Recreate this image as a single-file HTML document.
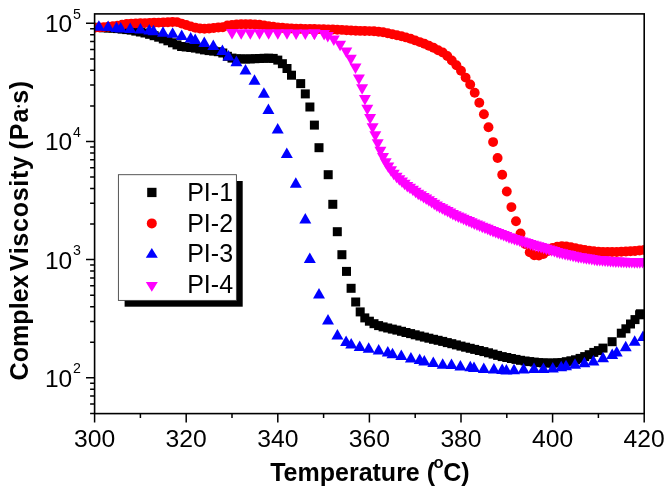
<!DOCTYPE html>
<html><head><meta charset="utf-8"><title>Complex Viscosity vs Temperature</title>
<style>
html,body{margin:0;padding:0;background:#fff;}
body{width:670px;height:497px;overflow:hidden;}
svg{display:block;font-family:"Liberation Sans",sans-serif;}
</style></head><body>
<svg width="670" height="497" viewBox="0 0 670 497">
<rect width="670" height="497" fill="#fff"/>
<defs><clipPath id="pc"><rect x="94.6" y="13.9" width="550.4" height="399.7"/></clipPath></defs>
<g clip-path="url(#pc)">
<g fill="#000"><rect x="90.1" y="22.8" width="9.0" height="9.0"/><rect x="94.7" y="23.0" width="9.0" height="9.0"/><rect x="99.3" y="23.3" width="9.0" height="9.0"/><rect x="103.8" y="23.5" width="9.0" height="9.0"/><rect x="108.4" y="23.7" width="9.0" height="9.0"/><rect x="113.0" y="24.1" width="9.0" height="9.0"/><rect x="117.6" y="24.6" width="9.0" height="9.0"/><rect x="122.2" y="25.1" width="9.0" height="9.0"/><rect x="126.7" y="25.6" width="9.0" height="9.0"/><rect x="131.3" y="26.6" width="9.0" height="9.0"/><rect x="135.9" y="27.5" width="9.0" height="9.0"/><rect x="140.5" y="28.5" width="9.0" height="9.0"/><rect x="145.1" y="29.8" width="9.0" height="9.0"/><rect x="149.6" y="31.2" width="9.0" height="9.0"/><rect x="154.2" y="32.7" width="9.0" height="9.0"/><rect x="158.8" y="34.4" width="9.0" height="9.0"/><rect x="163.4" y="36.3" width="9.0" height="9.0"/><rect x="168.0" y="38.3" width="9.0" height="9.0"/><rect x="172.5" y="40.4" width="9.0" height="9.0"/><rect x="177.1" y="42.0" width="9.0" height="9.0"/><rect x="181.7" y="42.5" width="9.0" height="9.0"/><rect x="186.3" y="43.0" width="9.0" height="9.0"/><rect x="190.9" y="43.6" width="9.0" height="9.0"/><rect x="195.4" y="44.5" width="9.0" height="9.0"/><rect x="200.0" y="45.4" width="9.0" height="9.0"/><rect x="204.6" y="46.1" width="9.0" height="9.0"/><rect x="209.2" y="46.6" width="9.0" height="9.0"/><rect x="213.8" y="47.2" width="9.0" height="9.0"/><rect x="218.3" y="48.5" width="9.0" height="9.0"/><rect x="222.9" y="51.8" width="9.0" height="9.0"/><rect x="227.5" y="53.6" width="9.0" height="9.0"/><rect x="232.1" y="54.3" width="9.0" height="9.0"/><rect x="236.7" y="54.4" width="9.0" height="9.0"/><rect x="241.2" y="54.5" width="9.0" height="9.0"/><rect x="245.8" y="54.4" width="9.0" height="9.0"/><rect x="250.4" y="54.2" width="9.0" height="9.0"/><rect x="255.0" y="54.0" width="9.0" height="9.0"/><rect x="259.6" y="53.8" width="9.0" height="9.0"/><rect x="264.1" y="53.7" width="9.0" height="9.0"/><rect x="268.7" y="53.9" width="9.0" height="9.0"/><rect x="273.3" y="55.6" width="9.0" height="9.0"/><rect x="277.9" y="59.2" width="9.0" height="9.0"/><rect x="282.5" y="64.0" width="9.0" height="9.0"/><rect x="287.0" y="70.7" width="9.0" height="9.0"/><rect x="296.2" y="79.1" width="9.0" height="9.0"/><rect x="300.8" y="89.4" width="9.0" height="9.0"/><rect x="305.4" y="102.5" width="9.0" height="9.0"/><rect x="309.9" y="120.6" width="9.0" height="9.0"/><rect x="314.5" y="143.2" width="9.0" height="9.0"/><rect x="323.7" y="170.2" width="9.0" height="9.0"/><rect x="328.3" y="199.8" width="9.0" height="9.0"/><rect x="332.8" y="227.2" width="9.0" height="9.0"/><rect x="337.4" y="250.2" width="9.0" height="9.0"/><rect x="342.0" y="266.9" width="9.0" height="9.0"/><rect x="346.6" y="283.8" width="9.0" height="9.0"/><rect x="351.2" y="297.5" width="9.0" height="9.0"/><rect x="355.7" y="307.4" width="9.0" height="9.0"/><rect x="360.3" y="313.4" width="9.0" height="9.0"/><rect x="364.9" y="316.7" width="9.0" height="9.0"/><rect x="369.5" y="319.2" width="9.0" height="9.0"/><rect x="374.1" y="321.1" width="9.0" height="9.0"/><rect x="378.6" y="322.4" width="9.0" height="9.0"/><rect x="383.2" y="323.5" width="9.0" height="9.0"/><rect x="387.8" y="324.6" width="9.0" height="9.0"/><rect x="392.4" y="325.6" width="9.0" height="9.0"/><rect x="397.0" y="326.8" width="9.0" height="9.0"/><rect x="401.5" y="328.0" width="9.0" height="9.0"/><rect x="406.1" y="329.1" width="9.0" height="9.0"/><rect x="410.7" y="330.3" width="9.0" height="9.0"/><rect x="415.3" y="331.5" width="9.0" height="9.0"/><rect x="419.9" y="332.6" width="9.0" height="9.0"/><rect x="424.4" y="333.7" width="9.0" height="9.0"/><rect x="429.0" y="334.8" width="9.0" height="9.0"/><rect x="433.6" y="335.8" width="9.0" height="9.0"/><rect x="438.2" y="336.9" width="9.0" height="9.0"/><rect x="442.8" y="338.1" width="9.0" height="9.0"/><rect x="447.3" y="339.2" width="9.0" height="9.0"/><rect x="451.9" y="340.4" width="9.0" height="9.0"/><rect x="456.5" y="341.6" width="9.0" height="9.0"/><rect x="461.1" y="342.7" width="9.0" height="9.0"/><rect x="465.7" y="343.8" width="9.0" height="9.0"/><rect x="470.2" y="344.9" width="9.0" height="9.0"/><rect x="474.8" y="346.0" width="9.0" height="9.0"/><rect x="479.4" y="347.1" width="9.0" height="9.0"/><rect x="484.0" y="348.3" width="9.0" height="9.0"/><rect x="488.6" y="349.6" width="9.0" height="9.0"/><rect x="493.1" y="350.9" width="9.0" height="9.0"/><rect x="497.7" y="352.1" width="9.0" height="9.0"/><rect x="502.3" y="353.0" width="9.0" height="9.0"/><rect x="506.9" y="354.0" width="9.0" height="9.0"/><rect x="511.5" y="354.9" width="9.0" height="9.0"/><rect x="516.0" y="355.8" width="9.0" height="9.0"/><rect x="520.6" y="356.5" width="9.0" height="9.0"/><rect x="525.2" y="357.1" width="9.0" height="9.0"/><rect x="529.8" y="357.6" width="9.0" height="9.0"/><rect x="534.4" y="358.1" width="9.0" height="9.0"/><rect x="538.9" y="358.4" width="9.0" height="9.0"/><rect x="543.5" y="358.5" width="9.0" height="9.0"/><rect x="548.1" y="358.6" width="9.0" height="9.0"/><rect x="552.7" y="358.3" width="9.0" height="9.0"/><rect x="557.3" y="358.1" width="9.0" height="9.0"/><rect x="561.8" y="357.2" width="9.0" height="9.0"/><rect x="566.4" y="356.3" width="9.0" height="9.0"/><rect x="571.0" y="355.3" width="9.0" height="9.0"/><rect x="575.6" y="353.9" width="9.0" height="9.0"/><rect x="580.2" y="352.1" width="9.0" height="9.0"/><rect x="584.7" y="350.2" width="9.0" height="9.0"/><rect x="589.3" y="347.9" width="9.0" height="9.0"/><rect x="593.9" y="346.1" width="9.0" height="9.0"/><rect x="598.5" y="343.6" width="9.0" height="9.0"/><rect x="607.6" y="337.2" width="9.0" height="9.0"/><rect x="616.8" y="328.7" width="9.0" height="9.0"/><rect x="621.4" y="324.3" width="9.0" height="9.0"/><rect x="626.0" y="319.5" width="9.0" height="9.0"/><rect x="630.5" y="315.1" width="9.0" height="9.0"/><rect x="635.1" y="310.3" width="9.0" height="9.0"/><rect x="635.9" y="309.3" width="9.0" height="9.0"/></g>
<g fill="#ff0000"><circle cx="94.6" cy="27.7" r="4.95"/><circle cx="99.2" cy="27.4" r="4.95"/><circle cx="103.8" cy="27.1" r="4.95"/><circle cx="108.3" cy="26.8" r="4.95"/><circle cx="112.9" cy="26.3" r="4.95"/><circle cx="117.5" cy="25.7" r="4.95"/><circle cx="122.1" cy="24.8" r="4.95"/><circle cx="126.7" cy="23.9" r="4.95"/><circle cx="131.2" cy="23.6" r="4.95"/><circle cx="135.8" cy="23.4" r="4.95"/><circle cx="140.4" cy="23.2" r="4.95"/><circle cx="145.0" cy="23.1" r="4.95"/><circle cx="149.6" cy="22.9" r="4.95"/><circle cx="154.1" cy="22.8" r="4.95"/><circle cx="158.7" cy="22.6" r="4.95"/><circle cx="163.3" cy="22.4" r="4.95"/><circle cx="167.9" cy="22.2" r="4.95"/><circle cx="172.5" cy="22.0" r="4.95"/><circle cx="177.0" cy="22.1" r="4.95"/><circle cx="181.6" cy="23.6" r="4.95"/><circle cx="186.2" cy="25.0" r="4.95"/><circle cx="190.8" cy="26.4" r="4.95"/><circle cx="195.4" cy="27.7" r="4.95"/><circle cx="199.9" cy="28.5" r="4.95"/><circle cx="204.5" cy="28.8" r="4.95"/><circle cx="209.1" cy="28.5" r="4.95"/><circle cx="213.7" cy="28.0" r="4.95"/><circle cx="218.3" cy="27.5" r="4.95"/><circle cx="222.8" cy="27.2" r="4.95"/><circle cx="227.4" cy="25.4" r="4.95"/><circle cx="232.0" cy="24.9" r="4.95"/><circle cx="236.6" cy="24.4" r="4.95"/><circle cx="241.2" cy="24.3" r="4.95"/><circle cx="245.7" cy="24.2" r="4.95"/><circle cx="250.3" cy="24.3" r="4.95"/><circle cx="254.9" cy="24.4" r="4.95"/><circle cx="259.5" cy="24.7" r="4.95"/><circle cx="264.1" cy="25.4" r="4.95"/><circle cx="268.6" cy="26.1" r="4.95"/><circle cx="273.2" cy="26.8" r="4.95"/><circle cx="277.8" cy="27.5" r="4.95"/><circle cx="282.4" cy="27.8" r="4.95"/><circle cx="287.0" cy="28.1" r="4.95"/><circle cx="291.5" cy="28.4" r="4.95"/><circle cx="296.1" cy="28.7" r="4.95"/><circle cx="300.7" cy="28.8" r="4.95"/><circle cx="305.3" cy="28.9" r="4.95"/><circle cx="309.9" cy="28.9" r="4.95"/><circle cx="314.4" cy="29.0" r="4.95"/><circle cx="319.0" cy="29.1" r="4.95"/><circle cx="323.6" cy="29.2" r="4.95"/><circle cx="328.2" cy="29.4" r="4.95"/><circle cx="332.8" cy="29.5" r="4.95"/><circle cx="337.3" cy="29.7" r="4.95"/><circle cx="341.9" cy="29.9" r="4.95"/><circle cx="346.5" cy="30.2" r="4.95"/><circle cx="351.1" cy="30.5" r="4.95"/><circle cx="355.7" cy="30.8" r="4.95"/><circle cx="360.2" cy="30.9" r="4.95"/><circle cx="364.8" cy="31.0" r="4.95"/><circle cx="369.4" cy="31.1" r="4.95"/><circle cx="374.0" cy="31.3" r="4.95"/><circle cx="378.6" cy="31.8" r="4.95"/><circle cx="383.1" cy="32.2" r="4.95"/><circle cx="387.7" cy="33.2" r="4.95"/><circle cx="392.3" cy="34.3" r="4.95"/><circle cx="396.9" cy="35.3" r="4.95"/><circle cx="401.5" cy="36.3" r="4.95"/><circle cx="406.0" cy="37.4" r="4.95"/><circle cx="410.6" cy="38.8" r="4.95"/><circle cx="415.2" cy="40.4" r="4.95"/><circle cx="419.8" cy="42.1" r="4.95"/><circle cx="424.4" cy="43.8" r="4.95"/><circle cx="428.9" cy="45.7" r="4.95"/><circle cx="433.5" cy="47.8" r="4.95"/><circle cx="438.1" cy="50.2" r="4.95"/><circle cx="442.7" cy="52.4" r="4.95"/><circle cx="447.3" cy="56.0" r="4.95"/><circle cx="451.8" cy="60.5" r="4.95"/><circle cx="456.4" cy="65.3" r="4.95"/><circle cx="461.0" cy="70.8" r="4.95"/><circle cx="465.6" cy="77.6" r="4.95"/><circle cx="470.2" cy="84.5" r="4.95"/><circle cx="474.7" cy="92.8" r="4.95"/><circle cx="479.3" cy="102.7" r="4.95"/><circle cx="483.9" cy="114.3" r="4.95"/><circle cx="488.5" cy="127.3" r="4.95"/><circle cx="493.1" cy="142.1" r="4.95"/><circle cx="497.6" cy="158.0" r="4.95"/><circle cx="502.2" cy="174.7" r="4.95"/><circle cx="506.8" cy="191.5" r="4.95"/><circle cx="511.4" cy="207.1" r="4.95"/><circle cx="516.0" cy="221.3" r="4.95"/><circle cx="520.5" cy="233.4" r="4.95"/><circle cx="525.1" cy="244.0" r="4.95"/><circle cx="529.7" cy="252.3" r="4.95"/><circle cx="534.3" cy="255.2" r="4.95"/><circle cx="538.9" cy="255.6" r="4.95"/><circle cx="543.4" cy="254.0" r="4.95"/><circle cx="548.0" cy="251.0" r="4.95"/><circle cx="552.6" cy="248.0" r="4.95"/><circle cx="557.2" cy="246.8" r="4.95"/><circle cx="561.8" cy="246.3" r="4.95"/><circle cx="566.3" cy="246.5" r="4.95"/><circle cx="570.9" cy="247.2" r="4.95"/><circle cx="575.5" cy="248.2" r="4.95"/><circle cx="580.1" cy="249.1" r="4.95"/><circle cx="584.7" cy="249.9" r="4.95"/><circle cx="589.2" cy="250.8" r="4.95"/><circle cx="593.8" cy="251.2" r="4.95"/><circle cx="598.4" cy="251.6" r="4.95"/><circle cx="603.0" cy="252.0" r="4.95"/><circle cx="607.6" cy="252.0" r="4.95"/><circle cx="612.1" cy="252.0" r="4.95"/><circle cx="616.7" cy="252.0" r="4.95"/><circle cx="621.3" cy="251.8" r="4.95"/><circle cx="625.9" cy="251.5" r="4.95"/><circle cx="630.5" cy="251.2" r="4.95"/><circle cx="635.0" cy="251.0" r="4.95"/><circle cx="639.6" cy="250.5" r="4.95"/><circle cx="644.2" cy="250.0" r="4.95"/></g>
<g fill="#0000ff"><path d="M98.9 20.2L104.9 30.8H92.9Z"/><path d="M108.1 20.6L114.1 31.1H102.1Z"/><path d="M116.5 21.4L122.5 31.9H110.5Z"/><path d="M120.7 21.9L126.7 32.5H114.7Z"/><path d="M130.2 22.4L136.2 32.9H124.2Z"/><path d="M140.4 22.9L146.4 33.5H134.4Z"/><path d="M149.3 23.9L155.3 34.5H143.3Z"/><path d="M153.5 24.8L159.5 35.2H147.5Z"/><path d="M163.0 26.2L169.0 36.8H157.0Z"/><path d="M172.6 27.2L178.6 37.8H166.6Z"/><path d="M181.7 29.5L187.7 40.0H175.7Z"/><path d="M190.7 31.9L196.7 42.4H184.7Z"/><path d="M195.2 33.6L201.2 44.1H189.2Z"/><path d="M204.3 36.4L210.3 46.9H198.3Z"/><path d="M213.3 39.4L219.3 49.9H207.3Z"/><path d="M222.4 44.6L228.4 55.1H216.4Z"/><path d="M228.4 50.0L234.4 60.5H222.4Z"/><path d="M236.4 55.6L242.4 66.2H230.4Z"/><path d="M245.5 64.0L251.5 74.5H239.5Z"/><path d="M254.5 74.2L260.5 84.8H248.5Z"/><path d="M263.9 87.3L269.9 97.8H257.9Z"/><path d="M268.4 103.5L274.4 114.0H262.4Z"/><path d="M277.7 122.9L283.7 133.4H271.7Z"/><path d="M286.8 147.4L292.8 157.9H280.8Z"/><path d="M295.8 177.2L301.8 187.8H289.8Z"/><path d="M305.3 213.1L311.3 223.6H299.3Z"/><path d="M309.8 252.4L315.8 262.9H303.8Z"/><path d="M319.0 287.9L325.0 298.4H313.0Z"/><path d="M328.0 314.1L334.0 324.6H322.0Z"/><path d="M337.4 328.9L343.4 339.4H331.4Z"/><path d="M346.1 335.4L352.1 345.9H340.1Z"/><path d="M351.2 337.9L357.2 348.4H345.2Z"/><path d="M359.7 340.4L365.7 350.9H353.7Z"/><path d="M368.7 342.2L374.7 352.8H362.7Z"/><path d="M378.7 344.1L384.7 354.6H372.7Z"/><path d="M387.8 345.9L393.8 356.4H381.8Z"/><path d="M392.5 347.8L398.5 358.2H386.5Z"/><path d="M401.3 349.4L407.3 359.9H395.3Z"/><path d="M410.9 351.9L416.9 362.4H404.9Z"/><path d="M419.7 353.6L425.7 364.1H413.7Z"/><path d="M424.3 355.1L430.3 365.6H418.3Z"/><path d="M433.3 356.6L439.3 367.1H427.3Z"/><path d="M442.7 358.2L448.7 368.8H436.7Z"/><path d="M451.5 358.6L457.5 369.1H445.5Z"/><path d="M460.4 359.9L466.4 370.4H454.4Z"/><path d="M470.3 360.8L476.3 371.2H464.3Z"/><path d="M474.0 361.4L480.0 371.9H468.0Z"/><path d="M483.8 362.4L489.8 372.9H477.8Z"/><path d="M493.9 363.1L499.9 373.6H487.9Z"/><path d="M502.2 363.4L508.2 373.9H496.2Z"/><path d="M506.4 364.1L512.4 374.6H500.4Z"/><path d="M514.0 363.8L520.0 374.2H508.0Z"/><path d="M523.6 362.9L529.6 373.4H517.6Z"/><path d="M534.0 362.4L540.0 372.9H528.0Z"/><path d="M543.4 362.4L549.4 372.9H537.4Z"/><path d="M552.8 361.9L558.8 372.4H546.8Z"/><path d="M561.2 360.8L567.2 371.2H555.2Z"/><path d="M566.0 359.8L572.0 370.2H560.0Z"/><path d="M575.0 358.2L581.0 368.8H569.0Z"/><path d="M584.4 356.8L590.4 367.2H578.4Z"/><path d="M593.4 354.9L599.4 365.4H587.4Z"/><path d="M603.0 351.8L609.0 362.2H597.0Z"/><path d="M612.2 348.6L618.2 359.1H606.2Z"/><path d="M616.7 345.9L622.7 356.4H610.7Z"/><path d="M625.7 340.8L631.7 351.2H619.7Z"/><path d="M634.7 335.2L640.7 345.8H628.7Z"/><path d="M643.0 330.4L649.0 340.9H637.0Z"/></g>
<g fill="#ff00ff"><path d="M232.0 39.6L238.0 29.1H226.0Z"/><path d="M241.2 39.7L247.2 29.2H235.2Z"/><path d="M250.3 39.7L256.3 29.2H244.3Z"/><path d="M259.5 39.7L265.5 29.2H253.5Z"/><path d="M268.6 39.8L274.6 29.3H262.6Z"/><path d="M277.8 39.8L283.8 29.3H271.8Z"/><path d="M287.0 39.8L293.0 29.3H281.0Z"/><path d="M296.1 39.9L302.1 29.4H290.1Z"/><path d="M305.3 39.9L311.3 29.4H299.3Z"/><path d="M314.4 39.9L320.4 29.4H308.4Z"/><path d="M314.4 40.0L320.4 29.5H308.4Z"/><path d="M324.1 40.6L330.1 30.1H318.1Z"/><path d="M327.8 42.6L333.8 32.1H321.8Z"/><path d="M333.8 46.0L339.8 35.5H327.8Z"/><path d="M340.1 51.2L346.1 40.8H334.1Z"/><path d="M346.3 58.0L352.3 47.5H340.3Z"/><path d="M350.8 65.2L356.8 54.8H344.8Z"/><path d="M355.5 74.0L361.5 63.5H349.5Z"/><path d="M358.9 85.0L364.9 74.5H352.9Z"/><path d="M362.1 94.8L368.1 84.3H356.1Z"/><path d="M364.9 105.5L370.9 95.0H358.9Z"/><path d="M367.3 115.3L373.3 104.8H361.3Z"/><path d="M370.1 124.5L376.1 114.0H364.1Z"/><path d="M372.6 133.8L378.6 123.2H366.6Z"/><path d="M375.3 141.8L381.3 131.2H369.3Z"/><path d="M377.7 149.8L383.7 139.2H371.7Z"/><path d="M380.4 157.2L386.4 146.8H374.4Z"/><path d="M383.0 163.4L389.0 152.9H377.0Z"/><path d="M385.7 168.8L391.7 158.2H379.7Z"/><path d="M388.3 173.1L394.3 162.6H382.3Z"/><path d="M391.0 176.8L397.0 166.2H385.0Z"/><path d="M393.7 180.2L399.7 169.7H387.7Z"/><path d="M396.6 183.2L402.6 172.8H390.6Z"/><path d="M399.3 185.8L405.3 175.2H393.3Z"/><path d="M402.0 188.1L408.0 177.6H396.0Z"/><path d="M404.6 190.3L410.6 179.8H398.6Z"/><path d="M407.3 192.6L413.3 182.1H401.3Z"/><path d="M410.0 194.3L416.0 183.8H404.0Z"/><path d="M412.9 196.3L418.9 185.8H406.9Z"/><path d="M415.6 198.2L421.6 187.8H409.6Z"/><path d="M418.2 200.2L424.2 189.7H412.2Z"/><path d="M420.9 201.8L426.9 191.2H414.9Z"/><path d="M423.6 203.4L429.6 192.9H417.6Z"/><path d="M426.2 205.1L432.2 194.6H420.2Z"/><path d="M428.9 206.8L434.9 196.3H422.9Z"/><path d="M431.6 208.5L437.6 198.0H425.6Z"/><path d="M434.3 210.2L440.3 199.7H428.3Z"/><path d="M436.9 211.9L442.9 201.4H430.9Z"/><path d="M439.6 213.4L445.6 202.9H433.6Z"/><path d="M442.3 214.8L448.3 204.3H436.3Z"/><path d="M444.9 216.2L450.9 205.7H438.9Z"/><path d="M447.6 217.6L453.6 207.1H441.6Z"/><path d="M450.3 219.0L456.3 208.5H444.3Z"/><path d="M452.9 220.4L458.9 209.9H446.9Z"/><path d="M455.6 221.7L461.6 211.2H449.6Z"/><path d="M458.3 223.0L464.3 212.5H452.3Z"/><path d="M461.0 224.1L467.0 213.6H455.0Z"/><path d="M463.6 225.3L469.6 214.8H457.6Z"/><path d="M466.3 226.5L472.3 216.0H460.3Z"/><path d="M469.0 227.6L475.0 217.1H463.0Z"/><path d="M471.6 228.8L477.6 218.3H465.6Z"/><path d="M474.3 230.0L480.3 219.5H468.3Z"/><path d="M477.0 231.0L483.0 220.5H471.0Z"/><path d="M479.6 232.1L485.6 221.6H473.6Z"/><path d="M482.3 233.2L488.3 222.7H476.3Z"/><path d="M485.0 234.3L491.0 223.8H479.0Z"/><path d="M487.7 235.3L493.7 224.8H481.7Z"/><path d="M490.3 236.4L496.3 225.9H484.3Z"/><path d="M493.0 237.5L499.0 227.0H487.0Z"/><path d="M495.7 238.5L501.7 228.0H489.7Z"/><path d="M498.3 239.5L504.3 229.0H492.3Z"/><path d="M501.0 240.6L507.0 230.1H495.0Z"/><path d="M503.7 241.6L509.7 231.1H497.7Z"/><path d="M506.3 242.6L512.3 232.1H500.3Z"/><path d="M509.0 243.7L515.0 233.2H503.0Z"/><path d="M511.7 244.6L517.7 234.1H505.7Z"/><path d="M514.4 245.4L520.4 234.9H508.4Z"/><path d="M517.0 246.3L523.0 235.8H511.0Z"/><path d="M519.7 247.1L525.7 236.6H513.7Z"/><path d="M522.4 247.9L528.4 237.4H516.4Z"/><path d="M525.0 248.7L531.0 238.2H519.0Z"/><path d="M527.7 249.6L533.7 239.1H521.7Z"/><path d="M530.4 250.4L536.4 239.9H524.4Z"/><path d="M533.0 251.2L539.0 240.7H527.0Z"/><path d="M535.7 251.9L541.7 241.4H529.7Z"/><path d="M538.4 252.7L544.4 242.2H532.4Z"/><path d="M541.1 253.5L547.1 243.0H535.1Z"/><path d="M543.7 254.3L549.7 243.8H537.7Z"/><path d="M546.4 255.2L552.4 244.7H540.4Z"/><path d="M549.1 256.0L555.1 245.5H543.1Z"/><path d="M551.7 256.8L557.7 246.3H545.7Z"/><path d="M554.4 257.6L560.4 247.1H548.4Z"/><path d="M557.1 258.4L563.1 247.9H551.1Z"/><path d="M559.7 259.2L565.7 248.7H553.7Z"/><path d="M562.4 259.8L568.4 249.3H556.4Z"/><path d="M565.1 260.4L571.1 249.9H559.1Z"/><path d="M567.8 261.0L573.8 250.5H561.8Z"/><path d="M570.4 261.6L576.4 251.1H564.4Z"/><path d="M573.1 262.2L579.1 251.7H567.1Z"/><path d="M575.8 262.8L581.8 252.3H569.8Z"/><path d="M578.4 263.4L584.4 252.9H572.4Z"/><path d="M581.1 263.8L587.1 253.3H575.1Z"/><path d="M583.8 264.2L589.8 253.7H577.8Z"/><path d="M586.4 264.7L592.4 254.2H580.4Z"/><path d="M589.1 265.1L595.1 254.6H583.1Z"/><path d="M591.8 265.5L597.8 255.0H585.8Z"/><path d="M594.5 265.9L600.5 255.4H588.5Z"/><path d="M597.1 266.4L603.1 255.9H591.1Z"/><path d="M599.8 266.6L605.8 256.1H593.8Z"/><path d="M602.5 266.8L608.5 256.3H596.5Z"/><path d="M605.1 267.1L611.1 256.6H599.1Z"/><path d="M607.8 267.3L613.8 256.8H601.8Z"/><path d="M610.5 267.5L616.5 257.0H604.5Z"/><path d="M613.1 267.7L619.1 257.2H607.1Z"/><path d="M615.8 267.9L621.8 257.4H609.8Z"/><path d="M618.5 268.1L624.5 257.6H612.5Z"/><path d="M621.2 268.2L627.2 257.7H615.2Z"/><path d="M623.8 268.3L629.8 257.8H617.8Z"/><path d="M626.5 268.4L632.5 257.9H620.5Z"/><path d="M629.2 268.5L635.2 258.0H623.2Z"/><path d="M631.8 268.6L637.8 258.1H625.8Z"/><path d="M634.5 268.7L640.5 258.2H628.5Z"/><path d="M637.2 268.7L643.2 258.2H631.2Z"/><path d="M639.8 268.7L645.8 258.2H633.8Z"/><path d="M642.5 268.6L648.5 258.1H636.5Z"/></g>
</g>
<rect x="94.6" y="13.9" width="549.6" height="399.7" fill="none" stroke="#000" stroke-width="1.6"/>
<path d="M94.6 413.6v9.0M140.4 413.6v4.5M186.2 413.6v9.0M232.0 413.6v4.5M277.8 413.6v9.0M323.6 413.6v4.5M369.4 413.6v9.0M415.2 413.6v4.5M461.0 413.6v9.0M506.8 413.6v4.5M552.6 413.6v9.0M598.4 413.6v4.5M644.2 413.6v9.0M94.6 413.4h-4.5M94.6 404.0h-4.5M94.6 396.1h-4.5M94.6 389.3h-4.5M94.6 383.2h-4.5M94.6 377.8h-8.6M94.6 342.2h-4.5M94.6 321.4h-4.5M94.6 306.7h-4.5M94.6 295.2h-4.5M94.6 285.8h-4.5M94.6 277.9h-4.5M94.6 271.1h-4.5M94.6 265.0h-4.5M94.6 259.6h-8.6M94.6 224.1h-4.5M94.6 203.3h-4.5M94.6 188.5h-4.5M94.6 177.0h-4.5M94.6 167.7h-4.5M94.6 159.8h-4.5M94.6 152.9h-4.5M94.6 146.9h-4.5M94.6 141.5h-8.6M94.6 105.9h-4.5M94.6 85.1h-4.5M94.6 70.3h-4.5M94.6 58.9h-4.5M94.6 49.5h-4.5M94.6 41.6h-4.5M94.6 34.8h-4.5M94.6 28.7h-4.5M94.6 23.3h-8.6" stroke="#000" stroke-width="1.5" fill="none"/>
<g opacity="0.999">

<rect x="124.6" y="181" width="118.1" height="125.7" fill="#000"/>
<rect x="118.4" y="174.7" width="118" height="125.7" fill="#fff" stroke="#444" stroke-width="0.9"/>
<rect x="147.2" y="187.8" width="9.3" height="9.3" fill="#000"/>
<circle cx="151.8" cy="223.4" r="5" fill="#ff0000"/>
<path d="M151.8 248L157.8 257.7H145.8Z" fill="#0000ff"/>
<path d="M151.8 291.8L157.8 282.1H145.8Z" fill="#ff00ff"/>
<g font-size="25">
<text x="187.2" y="200.7">PI-1</text>
<text x="187.2" y="231.5">PI-2</text>
<text x="187.2" y="262.3">PI-3</text>
<text x="187.2" y="292.9">PI-4</text>
</g>

<text x="94.6" y="446.6" text-anchor="middle" font-size="24.7">300</text>
<text x="186.2" y="446.6" text-anchor="middle" font-size="24.7">320</text>
<text x="277.8" y="446.6" text-anchor="middle" font-size="24.7">340</text>
<text x="369.4" y="446.6" text-anchor="middle" font-size="24.7">360</text>
<text x="461.0" y="446.6" text-anchor="middle" font-size="24.7">380</text>
<text x="552.6" y="446.6" text-anchor="middle" font-size="24.7">400</text>
<text x="644.2" y="446.6" text-anchor="middle" font-size="24.7">420</text>
<text x="72.2" y="386.7" text-anchor="end" font-size="24.5">10</text>
<text x="73" y="373.2" font-size="14.2">2</text>
<text x="72.2" y="268.5" text-anchor="end" font-size="24.5">10</text>
<text x="73" y="255.0" font-size="14.2">3</text>
<text x="72.2" y="150.4" text-anchor="end" font-size="24.5">10</text>
<text x="73" y="136.9" font-size="14.2">4</text>
<text x="72.2" y="32.2" text-anchor="end" font-size="24.5">10</text>
<text x="73" y="18.7" font-size="14.2">5</text>

<g font-weight="bold">
<text x="270.2" y="481.2" font-size="25">Temperature (</text>
<text x="433.6" y="467.7" font-size="16.5">o</text>
<text x="443.2" y="481.2" font-size="25">C)</text>
<g font-size="25.1">
<text transform="translate(28.3 380.4) rotate(-90)">Complex</text>
<text transform="translate(28.3 271.3) rotate(-90)" letter-spacing="0.7">Viscosity</text>
<text transform="translate(28.3 149.4) rotate(-90)" letter-spacing="0.9">(Pa</text>
<text transform="translate(28.3 103.8) rotate(-90)" letter-spacing="0.5">s)</text>
<circle cx="18.6" cy="106.2" r="1.25"/>
</g>
</g>

</g>
</svg>
</body></html>
